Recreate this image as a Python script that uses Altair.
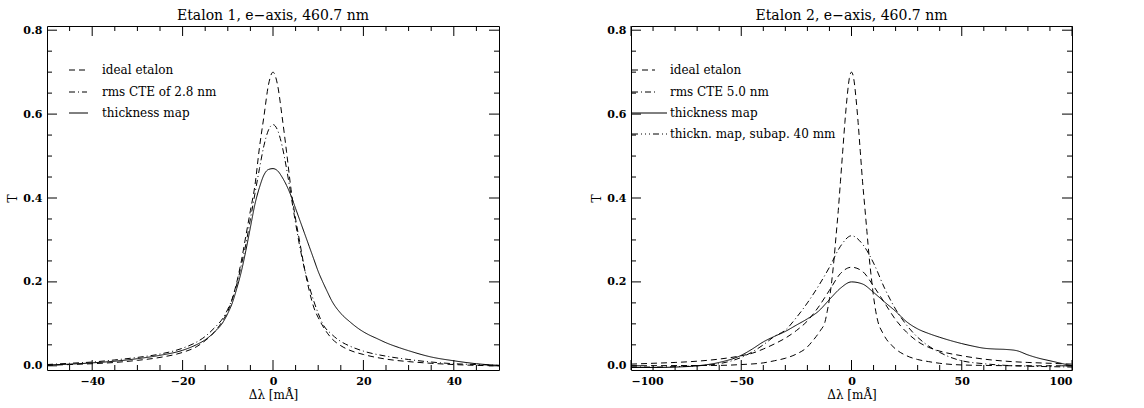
import altair as alt
import pandas as pd

# ---------------- Left panel (Etalon 1) ----------------
L_ideal_x = [-50, -45, -40, -35, -30, -25, -20, -17, -15, -13, -11, -10, -9, -8, -7, -6, -5, -4, -3, -2, -1, 0,
             1, 2, 3, 4, 5, 6, 7, 8, 9, 10, 11, 13, 15, 17, 20, 25, 30, 35, 40, 45, 50]
L_ideal_T = [0.001, 0.003, 0.005, 0.008, 0.013, 0.02, 0.032, 0.045, 0.06, 0.08, 0.11, 0.13, 0.16, 0.2, 0.25, 0.31,
             0.37, 0.43, 0.52, 0.595, 0.67, 0.70,
             0.67, 0.595, 0.51, 0.42, 0.35, 0.29, 0.23, 0.18, 0.14, 0.115, 0.095, 0.065, 0.048, 0.037, 0.027,
             0.016, 0.01, 0.006, 0.003, 0.001, 0.0]

L_cte_x = [-50, -45, -40, -35, -30, -25, -20, -17, -15, -13, -11, -10, -9, -8, -7, -6, -5, -4, -3, -2, -1, 0,
           1, 2, 3, 4, 5, 6, 7, 8, 9, 10, 11, 13, 15, 17, 20, 25, 30, 35, 40, 45, 50]
L_cte_T = [0.003, 0.006, 0.009, 0.014, 0.02, 0.028, 0.042, 0.056, 0.07, 0.09, 0.115, 0.135, 0.16, 0.195, 0.24,
           0.29, 0.35, 0.41, 0.47, 0.525, 0.562, 0.575,
           0.562, 0.525, 0.47, 0.405, 0.34, 0.28, 0.23, 0.19, 0.155, 0.125, 0.1, 0.075, 0.058, 0.047, 0.035,
           0.023, 0.015, 0.009, 0.005, 0.003, 0.001]

L_map_x = [-50, -45, -40, -35, -30, -25, -20, -17, -15, -13, -11, -10, -9, -8, -7, -6, -5, -4, -3, -2, -1, 0,
           1, 2, 3, 4, 5, 6, 7, 8, 9, 10, 11, 12, 13, 15, 17, 19, 21, 23, 25, 28, 30, 35, 40, 45, 50]
L_map_T = [0.002, 0.004, 0.007, 0.011, 0.017, 0.025, 0.037, 0.05, 0.062, 0.08, 0.105, 0.125, 0.15, 0.185, 0.225,
           0.275, 0.33, 0.385, 0.425, 0.455, 0.468, 0.47,
           0.465, 0.45, 0.43, 0.405, 0.375, 0.345, 0.315, 0.285, 0.255, 0.225, 0.2, 0.177, 0.155, 0.125, 0.105,
           0.088, 0.075, 0.065, 0.055, 0.043, 0.036, 0.021, 0.012, 0.005, 0.001]

L_labels = ["ideal etalon", "rms CTE of 2.8 nm", "thickness map"]

# ---------------- Right panel (Etalon 2) ----------------
R_ideal_x = [-100, -80, -60, -50, -40, -35, -30, -25, -20, -18, -16, -14, -12, -11, -10, -9, -8, -7, -6, -5, -4,
             -3, -2, -1, 0, 1, 2, 3, 4, 5, 6, 7, 8, 9, 10, 11, 12, 14, 16, 18, 20, 25, 30, 35, 40, 50, 60, 80, 100]
R_ideal_T = [0.0, 0.0005, 0.001, 0.003, 0.007, 0.012, 0.018, 0.028, 0.045, 0.057, 0.07, 0.085, 0.105, 0.13,
             0.16, 0.2, 0.25, 0.31, 0.37, 0.44, 0.51, 0.58, 0.64, 0.685, 0.70,
             0.685, 0.64, 0.58, 0.51, 0.44, 0.38, 0.32, 0.26, 0.21, 0.165, 0.13, 0.105, 0.08, 0.062, 0.05, 0.04,
             0.024, 0.015, 0.01, 0.006, 0.002, 0.001, 0.0, 0.0]

R_cte_x = [-100, -90, -80, -70, -60, -50, -45, -40, -35, -30, -25, -20, -15, -10, -5, 0, 5, 10, 15, 20, 25, 30,
           35, 40, 50, 60, 70, 80, 90, 100]
R_cte_T = [0.004, 0.006, 0.008, 0.011, 0.016, 0.024, 0.03, 0.04, 0.052, 0.066, 0.084, 0.107, 0.14, 0.18, 0.22,
           0.235, 0.225, 0.19, 0.15, 0.11, 0.08, 0.058, 0.044, 0.035, 0.024, 0.016, 0.011, 0.008, 0.006, 0.004]

R_map_x = [-100, -90, -80, -70, -60, -50, -45, -40, -35, -30, -25, -20, -15, -10, -5, 0, 5, 10, 15, 20, 25, 30,
           35, 40, 45, 50, 55, 60, 65, 70, 75, 80, 85, 90, 95, 100]
R_map_T = [-0.004, -0.004, -0.003, 0.0, 0.008, 0.025, 0.04, 0.057, 0.07, 0.082, 0.097, 0.112, 0.13, 0.158,
           0.185, 0.2, 0.195, 0.175, 0.152, 0.13, 0.105, 0.088, 0.077, 0.068, 0.06, 0.053, 0.047, 0.042, 0.04,
           0.039, 0.036, 0.026, 0.018, 0.012, 0.006, 0.0]

R_sub_x = [-100, -90, -80, -70, -60, -50, -45, -40, -35, -30, -25, -20, -15, -10, -5, 0, 5, 10, 15, 20, 25, 30,
           35, 40, 45, 50, 60, 70, 80, 90, 100]
R_sub_T = [-0.003, -0.003, -0.002, 0.0, 0.005, 0.02, 0.033, 0.05, 0.07, 0.085, 0.115, 0.15, 0.19, 0.235, 0.285,
           0.31, 0.29, 0.245, 0.185, 0.135, 0.097, 0.068, 0.047, 0.032, 0.02, 0.012, 0.005, 0.001, -0.001,
           -0.002, -0.003]

R_labels = ["ideal etalon", "rms CTE 5.0 nm", "thickness map", "thickn. map, subap. 40 mm"]

Y_MAJOR = [0.0, 0.2, 0.4, 0.6, 0.8]
Y_MINOR = [0.05, 0.1, 0.15, 0.25, 0.3, 0.35, 0.45, 0.5, 0.55, 0.65, 0.7, 0.75]
L_X_MAJOR = [-40, -20, 0, 20, 40]
L_X_MINOR = [-45, -35, -30, -25, -15, -10, -5, 5, 10, 15, 25, 30, 35, 45]
R_X_MAJOR = [-100, -50, 0, 50, 100]
R_X_MINOR = [-90, -80, -70, -60, -40, -30, -20, -10, 10, 20, 30, 40, 60, 70, 80, 90]

# ---------------- styling ----------------
FONT = "DejaVu Serif"
DASHES = {"dash": [6, 4], "dashdot": [6, 3, 1, 3], "solid": [1, 0], "dash3dot": [6, 3, 1, 3, 1, 3, 1, 3]}
H = 344
MAJ, MIN = 10, 5


def long_frame(series):
    rows = []
    for name, xs, ts in series:
        for xv, tv in zip(xs, ts):
            rows.append({"x": xv, "T": tv, "series": name})
    return pd.DataFrame(rows)


def panel(series, labels, styles, xdom, xmaj, xmin, W, title, leg_x, leg_x2, leg_tx):
    xs = alt.Scale(domain=xdom, nice=False, zero=False)
    ys = alt.Scale(domain=[-0.01, 0.81], nice=False, zero=False)
    xax = alt.Axis(values=xmaj, format="d", title="Δλ [mÅ]", ticks=False, domain=False, grid=False,
                   labelPadding=5, titlePadding=3)
    yax = alt.Axis(values=Y_MAJOR, format=".1f", title="T", ticks=False, domain=False, grid=False,
                   labelPadding=5, titlePadding=3)
    df = long_frame(series)
    lines = alt.Chart(df).mark_line(color="black", strokeWidth=1, clip=True, interpolate="monotone").encode(
        x=alt.X("x:Q", scale=xs, axis=xax),
        y=alt.Y("T:Q", scale=ys, axis=yax),
        strokeDash=alt.StrokeDash("series:N", scale=alt.Scale(domain=labels, range=[DASHES[s] for s in styles]),
                                  legend=None),
        detail="series:N",
    )
    layers = [lines]
    xmaj_df = pd.DataFrame({"x": xmaj})
    xmin_df = pd.DataFrame({"x": xmin})
    ymaj_df = pd.DataFrame({"T": Y_MAJOR})
    ymin_df = pd.DataFrame({"T": Y_MINOR})
    for d, ln in ((xmaj_df, MAJ), (xmin_df, MIN)):
        layers.append(alt.Chart(d).mark_rule(color="black", strokeWidth=1).encode(
            x=alt.X("x:Q", scale=xs, axis=xax), y=alt.value(H), y2=alt.value(H - ln)))
        layers.append(alt.Chart(d).mark_rule(color="black", strokeWidth=1).encode(
            x=alt.X("x:Q", scale=xs, axis=xax), y=alt.value(0), y2=alt.value(ln)))
    for d, ln in ((ymaj_df, MAJ), (ymin_df, MIN)):
        layers.append(alt.Chart(d).mark_rule(color="black", strokeWidth=1).encode(
            y=alt.Y("T:Q", scale=ys, axis=yax), x=alt.value(0), x2=alt.value(ln)))
        layers.append(alt.Chart(d).mark_rule(color="black", strokeWidth=1).encode(
            y=alt.Y("T:Q", scale=ys, axis=yax), x=alt.value(W), x2=alt.value(W - ln)))
    # legend
    row_y = [44, 66, 87, 108]
    for i, (lab, st) in enumerate(zip(labels, styles)):
        ld = pd.DataFrame({"label": [lab]})
        layers.append(alt.Chart(ld).mark_rule(color="black", strokeWidth=1, strokeDash=DASHES[st]).encode(
            x=alt.value(leg_x), x2=alt.value(leg_x2[i]), y=alt.value(row_y[i])))
        layers.append(alt.Chart(ld).mark_text(align="left", baseline="middle", font=FONT, fontSize=12,
                                              color="black").encode(
            x=alt.value(leg_tx), y=alt.value(row_y[i]), text="label:N"))
    return alt.layer(*layers).properties(width=W, height=H, title=title)


left = panel(
    [("ideal etalon", L_ideal_x, L_ideal_T), ("rms CTE of 2.8 nm", L_cte_x, L_cte_T),
     ("thickness map", L_map_x, L_map_T)],
    L_labels, ["dash", "dashdot", "solid"], [-50, 50], L_X_MAJOR, L_X_MINOR, 452,
    "Etalon 1, e−axis, 460.7 nm", 22, [40, 40, 41], 55)

right = panel(
    [("ideal etalon", R_ideal_x, R_ideal_T), ("rms CTE 5.0 nm", R_cte_x, R_cte_T),
     ("thickness map", R_map_x, R_map_T), ("thickn. map, subap. 40 mm", R_sub_x, R_sub_T)],
    R_labels, ["dash", "dashdot", "solid", "dash3dot"], [-100, 100], R_X_MAJOR, R_X_MINOR, 441,
    "Etalon 2, e−axis, 460.7 nm", 1, [24, 24, 36, 36], 39)

chart = alt.hconcat(left, right, spacing=90).properties(
    padding={"left": 6, "top": 8, "right": 5, "bottom": 0}
).configure_view(stroke="black", strokeWidth=1).configure_axis(
    labelFont=FONT, titleFont=FONT, labelFontSize=11, titleFontSize=12, labelColor="black",
    titleColor="black", labelFontWeight="bold", titleFontWeight="normal"
).configure_title(font=FONT, fontSize=14, fontWeight="normal", color="black", anchor="middle", offset=1)

chart.save("out.html", embed_options={"renderer": "svg", "actions": False})
